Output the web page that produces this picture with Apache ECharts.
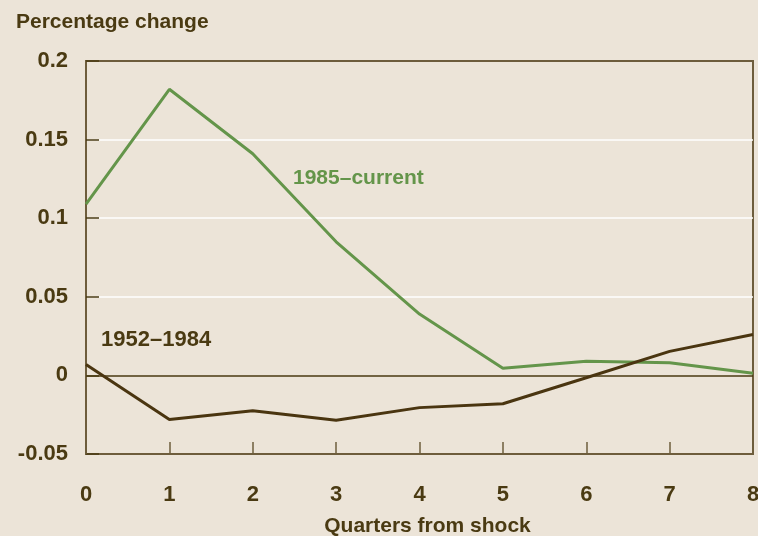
<!DOCTYPE html>
<html>
<head>
<meta charset="utf-8">
<script src="https://cdn.jsdelivr.net/npm/echarts@6/dist/echarts.min.js"></script>
<style>
  html, body { margin: 0; padding: 0; background: #ece4d8; overflow: hidden; }
  #chart { width: 758px; height: 536px; }
</style>
</head>
<body>
<div id="chart"></div>
<script>
var quarters = [0, 1, 2, 3, 4, 5, 6, 7, 8];
var recent = [0.109, 0.182, 0.141, 0.085, 0.039, 0.0045, 0.009, 0.008, 0.0013];
var early = [0.007, -0.028, -0.0225, -0.0285, -0.0205, -0.018, -0.0015, 0.0153, 0.026];

var textColor = '#4a3a12';
var boxColor = '#6e5d3c';
var fontFam = '"Liberation Sans", Arial, sans-serif';

function pairs(vals) {
    return quarters.map(function (q, i) { return [q, vals[i]]; });
}

var chart = echarts.init(document.getElementById('chart'));

var option = {
    backgroundColor: '#ece4d8',
    animation: false,
    title: {
        text: 'Percentage change',
        left: 11,
        top: 7,
        textStyle: { color: textColor, fontFamily: fontFam, fontWeight: 'bold', fontSize: 21 }
    },
    grid: {
        left: 86, right: 5, top: 61, bottom: 82,
        outerBoundsMode: 'none',
        containLabel: false,
        show: true,
        borderColor: boxColor,
        borderWidth: 2
    },
    xAxis: {
        type: 'value',
        min: 0, max: 8, interval: 1,
        name: 'Quarters from shock',
        nameLocation: 'middle',
        nameGap: 62,
        nameTextStyle: { color: textColor, fontFamily: fontFam, fontWeight: 'bold', fontSize: 21, padding: [0, 0, 0, 16] },
        axisLine: { show: true, onZero: false, lineStyle: { color: boxColor, width: 2 } },
        axisTick: { show: true, inside: true, length: 12, lineStyle: { color: boxColor, width: 1.5 } },
        axisLabel: { color: textColor, fontFamily: fontFam, fontWeight: 'bold', fontSize: 22, margin: 30 },
        splitLine: { show: false }
    },
    yAxis: {
        type: 'value',
        min: -0.05, max: 0.2, interval: 0.05,
        axisLine: { show: true, onZero: false, lineStyle: { color: boxColor, width: 2 } },
        axisTick: { show: true, inside: true, length: 13, lineStyle: { color: '#4a3a12', width: 1.5 } },
        axisLabel: {
            color: textColor, fontFamily: fontFam, fontWeight: 'bold', fontSize: 22, margin: 18,
            formatter: function (v) { return String(Math.round(v * 100) / 100); }
        },
        splitLine: {
            show: true,
            lineStyle: { color: ['#6e5d3c', '#4a3a12', '#ffffff', '#ffffff', '#ffffff', '#6e5d3c'], width: 1.5 }
        }
    },
    graphic: [
        {
            type: 'text', left: 293, top: 168,
            style: { text: '1985–current', fill: '#64954a', font: 'bold 21px ' + fontFam }
        },
        {
            type: 'text', left: 101, top: 329,
            style: { text: '1952–1984', fill: textColor, font: 'bold 22px ' + fontFam }
        }
    ],
    series: [
        {
            name: '1985–current',
            type: 'line',
            data: pairs(recent),
            showSymbol: false,
            lineStyle: { color: '#64954a', width: 3 },
            z: 3
        },
        {
            name: '1952–1984',
            type: 'line',
            data: pairs(early),
            showSymbol: false,
            lineStyle: { color: '#4a3510', width: 3 },
            z: 4
        }
    ]
};

option && chart.setOption(option);
</script>
</body>
</html>
